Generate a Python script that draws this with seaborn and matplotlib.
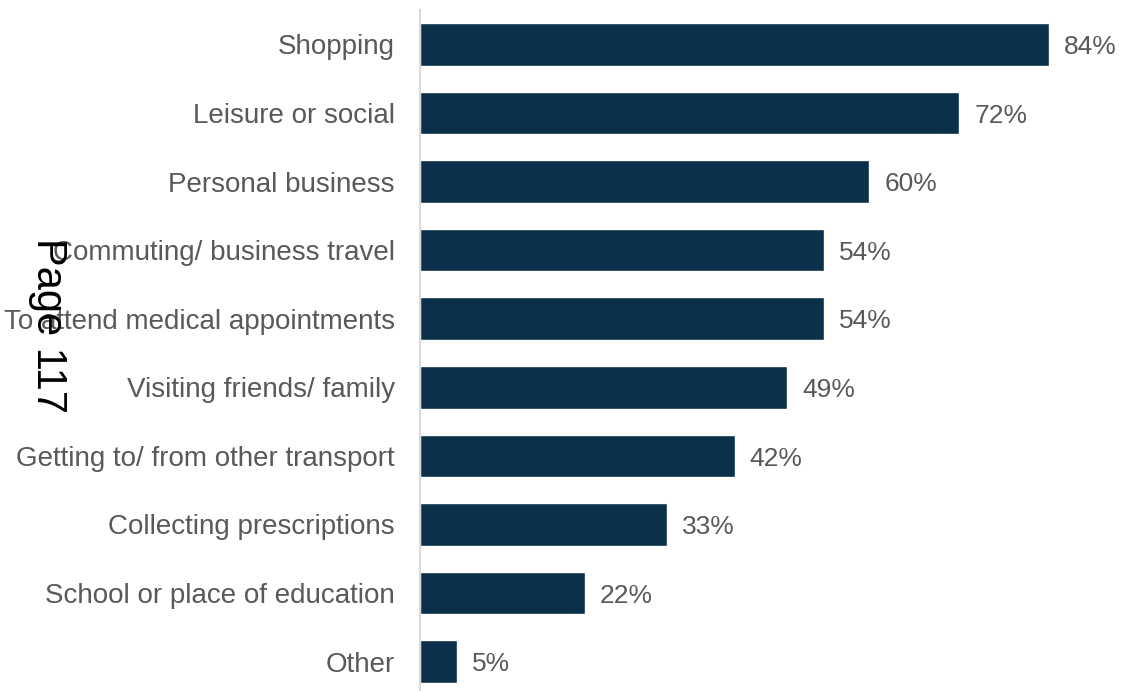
import matplotlib
matplotlib.use("Agg")
import matplotlib.pyplot as plt
import seaborn as sns
import pandas as pd

categories = [
    "Shopping",
    "Leisure or social",
    "Personal business",
    "Commuting/ business travel",
    "To attend medical appointments",
    "Visiting friends/ family",
    "Getting to/ from other transport",
    "Collecting prescriptions",
    "School or place of education",
    "Other",
]
values = [84, 72, 60, 54, 54, 49, 42, 33, 22, 5]
value_labels = ["84%", "72%", "60%", "54%", "54%", "49%", "42%", "33%", "22%", "5%"]

sns.set_theme(style="white")
plt.rcParams["font.family"] = ["Liberation Sans", "DejaVu Sans"]

df = pd.DataFrame({"purpose": categories, "share": values})

fig = plt.figure(figsize=(11.24, 6.91), dpi=100)
ax = fig.add_axes([420 / 1124, -5 / 691, 704 / 1124, 686 / 691])

sns.barplot(data=df, x="share", y="purpose", color="#0b3049", width=0.62,
            saturation=1, ax=ax, order=categories)

ax.set_xlim(0, 94)
ax.set_ylim(9.5, -0.5)
ax.set_xlabel("")
ax.set_ylabel("")
ax.set_xticks([])
for side in ["top", "right", "bottom"]:
    ax.spines[side].set_visible(False)
ax.spines["left"].set_color("#d9d9d9")
ax.spines["left"].set_linewidth(1.5)
ax.tick_params(axis="y", length=0, pad=18, labelsize=20, labelcolor="#595959")

for i, (v, lab) in enumerate(zip(values, value_labels)):
    ax.text(v + 2.0, i + 0.04, lab, va="center", ha="left", fontsize=19, color="#595959")

fig.text(48 / 1124, 1 - 326 / 691, "Page 117", rotation=-90, ha="center", va="center",
         fontsize=30, color="black")

fig.savefig("out.png", dpi=100)
